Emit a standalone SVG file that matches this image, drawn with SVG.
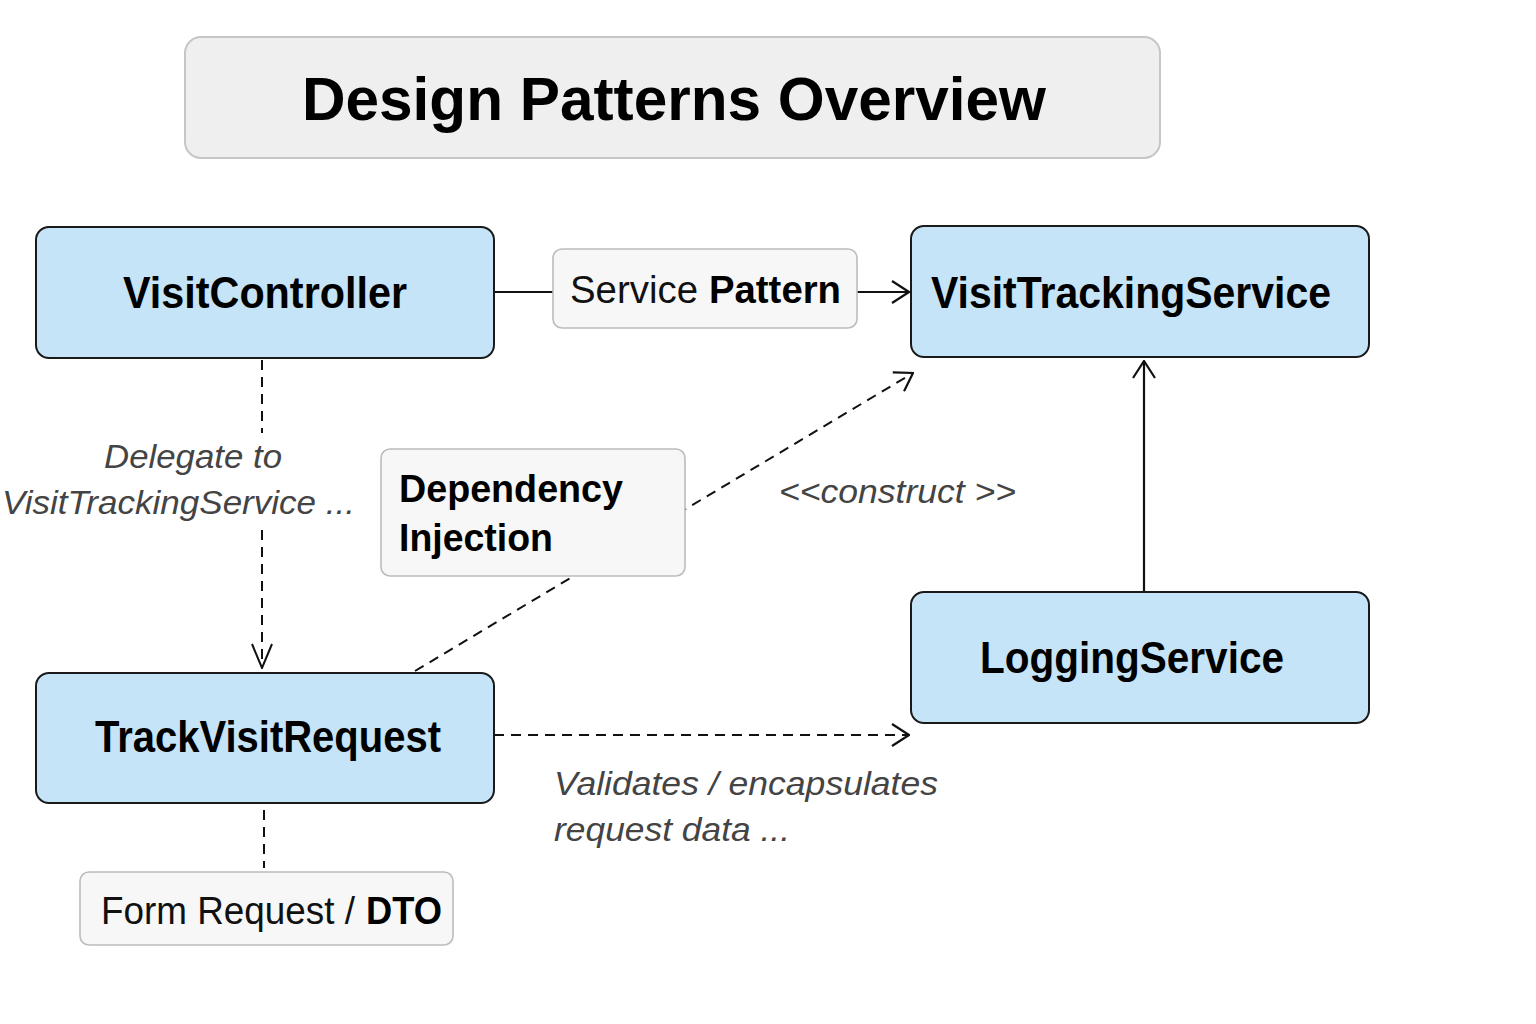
<svg xmlns="http://www.w3.org/2000/svg" width="1536" height="1024" viewBox="0 0 1536 1024">
<style>
.node{fill:#c6e4f8;stroke:#1a1a1a;stroke-width:2}
.lbl{fill:#f7f7f7;stroke:#bcbcbc;stroke-width:1.6}
.nt{font-family:"Liberation Sans",Arial,sans-serif;font-weight:bold;font-size:44px;fill:#000;text-anchor:middle}
.lt{font-family:"Liberation Sans",Arial,sans-serif;font-size:38px;fill:#111}
.it{font-family:"Liberation Sans",Arial,sans-serif;font-style:italic;font-size:34px;fill:#444}
.b{font-weight:bold;fill:#000}
.solid{fill:none;stroke:#111;stroke-width:2.2}
.dash{fill:none;stroke:#111;stroke-width:2;stroke-dasharray:10 7}
</style>
<defs>
<marker id="arr" viewBox="0 0 20 24" refX="19" refY="12" markerWidth="20" markerHeight="24" markerUnits="userSpaceOnUse" orient="auto">
<path d="M2,1 L19,12 L2,23" fill="none" stroke="#111" stroke-width="2.2" stroke-dasharray="none"/>
</marker>
<marker id="arrn" viewBox="0 0 26 22" refX="25" refY="11" markerWidth="26" markerHeight="22" markerUnits="userSpaceOnUse" orient="auto">
<path d="M1,1 L25,11 L1,21" fill="none" stroke="#111" stroke-width="2" stroke-dasharray="none"/>
</marker>
</defs>
<rect width="1536" height="1024" fill="#fff"/>

<g id="title">
<rect x="185" y="37" width="975" height="121" rx="16" fill="#efefef" stroke="#c6c6c6" stroke-width="2"/>
<text x="674" y="120" font-family="Liberation Sans,Arial,sans-serif" font-weight="bold" font-size="62" text-anchor="middle" textLength="744" lengthAdjust="spacingAndGlyphs">Design Patterns Overview</text>
</g>

<g id="connectors">
<path class="solid" d="M494,292 H553"/>
<path class="solid" d="M857,292 H909" marker-end="url(#arr)"/>
<path class="dash" d="M262,360 V433 M262,530 V668" marker-end="url(#arrn)"/>
<path class="dash" d="M415,671 L913,373" marker-end="url(#arr)"/>
<path class="solid" d="M1144,592 V361" marker-end="url(#arr)"/>
<path class="dash" d="M494,735 H909" marker-end="url(#arr)"/>
<path class="dash" d="M264,810 V868"/>
</g>

<g id="VisitController">
<rect class="node" x="36" y="227" width="458" height="131" rx="13"/>
<text class="nt" x="265" y="308" textLength="284" lengthAdjust="spacingAndGlyphs">VisitController</text>
</g>

<g id="VisitTrackingService">
<rect class="node" x="911" y="226" width="458" height="131" rx="13"/>
<text class="nt" x="1131" y="308" textLength="400" lengthAdjust="spacingAndGlyphs">VisitTrackingService</text>
</g>

<g id="LoggingService">
<rect class="node" x="911" y="592" width="458" height="131" rx="13"/>
<text class="nt" x="1132" y="673" textLength="304" lengthAdjust="spacingAndGlyphs">LoggingService</text>
</g>

<g id="TrackVisitRequest">
<rect class="node" x="36" y="673" width="458" height="130" rx="13"/>
<text class="nt" x="268" y="752" textLength="346" lengthAdjust="spacingAndGlyphs">TrackVisitRequest</text>
</g>

<g id="ServicePattern">
<rect class="lbl" x="553" y="249" width="304" height="79" rx="9"/>
<text class="lt" x="570" y="303" textLength="128" lengthAdjust="spacingAndGlyphs">Service</text>
<text class="lt b" x="709" y="303" textLength="132" lengthAdjust="spacingAndGlyphs">Pattern</text>
</g>

<g id="DependencyInjection">
<rect class="lbl" x="381" y="449" width="304" height="127" rx="9"/>
<text class="lt b" x="399" y="502" font-size="37" textLength="224" lengthAdjust="spacingAndGlyphs">Dependency</text>
<text class="lt b" x="399" y="551" font-size="37" textLength="154" lengthAdjust="spacingAndGlyphs">Injection</text>
</g>

<g id="FormRequestDTO">
<rect class="lbl" x="80" y="872" width="373" height="73" rx="9"/>
<text class="lt" x="101" y="924" font-size="36" textLength="254" lengthAdjust="spacingAndGlyphs">Form Request /</text>
<text class="lt b" x="366" y="924" font-size="36" textLength="76" lengthAdjust="spacingAndGlyphs">DTO</text>
</g>

<g id="labels">
<text class="it" x="193" y="468" text-anchor="middle" textLength="178" lengthAdjust="spacingAndGlyphs">Delegate to</text>
<text class="it" x="2" y="514" textLength="353" lengthAdjust="spacingAndGlyphs">VisitTrackingService ...</text>
<text class="it" x="779" y="503" textLength="237" lengthAdjust="spacingAndGlyphs">&lt;&lt;construct &gt;&gt;</text>
<text class="it" x="554" y="795" textLength="384" lengthAdjust="spacingAndGlyphs">Validates / encapsulates</text>
<text class="it" x="554" y="841" textLength="236" lengthAdjust="spacingAndGlyphs">request data ...</text>
</g>
</svg>
